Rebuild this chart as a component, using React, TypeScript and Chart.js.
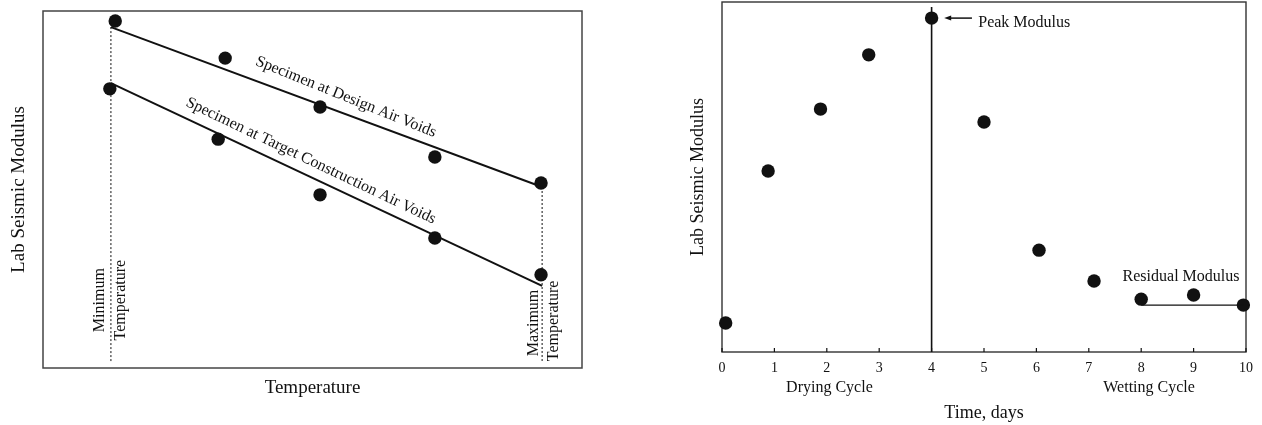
import React, { useEffect, useRef } from "react";
import { Chart, registerables } from "chart.js";

Chart.register(...registerables);

const FONT = "'Liberation Serif', 'Times New Roman', Times, serif";
const INK = "#111111";

// ---------- Left chart: modulus vs temperature (arbitrary 0-100 units) ----------
const designX = [13.4, 33.8, 51.4, 72.7, 92.4];
const designY = [97.2, 86.8, 73.1, 59.1, 51.8];
const targetX = [12.4, 32.5, 51.4, 72.7, 92.4];
const targetY = [78.2, 64.1, 48.5, 36.4, 26.1];
const designFitX = [12.6, 92.6];
const designFitY = [95.5, 50.7];
const targetFitX = [12.6, 92.6];
const targetFitY = [79.8, 23.0];
const minTempX = [12.6, 12.6];
const minTempY = [95.5, 1.4];
const maxTempX = [92.6, 92.6];
const maxTempY = [50.7, 1.4];

// ---------- Right chart: modulus vs time ----------
const timeDays = [0.07, 0.88, 1.88, 2.8, 4.0, 5.0, 6.05, 7.1, 8.0, 9.0, 9.95];
const modulus = [8.3, 51.7, 69.4, 84.9, 95.4, 65.7, 29.1, 20.3, 15.1, 16.3, 13.4];
const peakLineX = [4, 4];
const peakLineY = [0, 98.6];
const residualX = [8.0, 9.95];
const residualY = [13.4, 13.4];
const dayTickMin = 0;
const dayTickMax = 10;

type Label = { text: string; x: number; y: number; rot?: number; align?: CanvasTextAlign; size?: number };

const leftLabels: Label[] = [
  { text: "Specimen at Design Air Voids", x: 56.2, y: 75.9, rot: 22, size: 16 },
  { text: "Specimen at Target Construction Air Voids", x: 49.7, y: 58.0, rot: 25.5, size: 16 },
  { text: "Minimum", x: 10.6, y: 19.0, rot: -90, size: 16 },
  { text: "Temperature", x: 14.5, y: 19.0, rot: -90, size: 16 },
  { text: "Maximum", x: 91.1, y: 12.6, rot: -90, size: 16 },
  { text: "Temperature", x: 94.8, y: 13.2, rot: -90, size: 16 },
];

const rightLabels: Label[] = [
  { text: "Peak Modulus", x: 4.89, y: 94.0, align: "left", size: 16 },
  { text: "Residual Modulus", x: 8.76, y: 21.4, size: 16 },
  { text: "Drying Cycle", x: 2.05, y: -10.3, size: 16 },
  { text: "Wetting Cycle", x: 8.15, y: -10.3, size: 16 },
];

const pts = (xs: number[], ys: number[]) => xs.map((x, i) => ({ x, y: ys[i] }));

const boxPlugin = (width: number, color: string) => ({
  id: "box",
  beforeDatasetsDraw(chart: any) {
    const { ctx, chartArea: a } = chart;
    ctx.save();
    ctx.strokeStyle = color;
    ctx.lineWidth = width;
    ctx.strokeRect(a.left, a.top, a.right - a.left, a.bottom - a.top);
    ctx.restore();
  },
});

const labelPlugin = (labels: Label[]) => ({
  id: "labels",
  afterDatasetsDraw(chart: any) {
    const { ctx, scales } = chart;
    ctx.save();
    ctx.fillStyle = INK;
    labels.forEach((l) => {
      const px = scales.x.getPixelForValue(l.x);
      const py = scales.y.getPixelForValue(l.y);
      ctx.save();
      ctx.translate(px, py);
      ctx.rotate(((l.rot || 0) * Math.PI) / 180);
      ctx.font = `${l.size || 16}px ${FONT}`;
      ctx.textAlign = l.align || "center";
      ctx.textBaseline = "middle";
      ctx.fillText(l.text, 0, 0);
      ctx.restore();
    });
    ctx.restore();
  },
});

const arrowPlugin = {
  id: "arrow",
  afterDatasetsDraw(chart: any) {
    const { ctx, scales } = chart;
    const x1 = scales.x.getPixelForValue(4.77);
    const x2 = scales.x.getPixelForValue(4.24);
    const y = scales.y.getPixelForValue(95.4);
    ctx.save();
    ctx.strokeStyle = INK;
    ctx.fillStyle = INK;
    ctx.lineWidth = 1.5;
    ctx.beginPath();
    ctx.moveTo(x1, y);
    ctx.lineTo(x2 + 4, y);
    ctx.stroke();
    ctx.beginPath();
    ctx.moveTo(x2, y);
    ctx.lineTo(x2 + 7, y - 2.5);
    ctx.lineTo(x2 + 7, y + 2.5);
    ctx.closePath();
    ctx.fill();
    // inward tick marks on the time axis
    const bottom = chart.chartArea.bottom;
    ctx.lineWidth = 1.2;
    for (let v = dayTickMin; v <= dayTickMax; v++) {
      const px = scales.x.getPixelForValue(v);
      ctx.beginPath();
      ctx.moveTo(px, bottom);
      ctx.lineTo(px, bottom - 4);
      ctx.stroke();
    }
    ctx.restore();
  },
};

const hidden = {
  grid: { display: false, drawTicks: false },
  border: { display: false },
};

function leftConfig(): any {
  return {
    type: "scatter",
    data: {
      datasets: [
        { data: pts(designFitX, designFitY), showLine: true, borderColor: INK, borderWidth: 2, pointRadius: 0, clip: false },
        { data: pts(targetFitX, targetFitY), showLine: true, borderColor: INK, borderWidth: 2, pointRadius: 0, clip: false },
        { data: pts(minTempX, minTempY), showLine: true, borderColor: INK, borderWidth: 1, borderDash: [2, 2], pointRadius: 0, clip: false },
        { data: pts(maxTempX, maxTempY), showLine: true, borderColor: INK, borderWidth: 1, borderDash: [2, 2], pointRadius: 0, clip: false },
        { data: pts(designX, designY), pointRadius: 6.7, backgroundColor: INK, borderWidth: 0, clip: false },
        { data: pts(targetX, targetY), pointRadius: 6.7, backgroundColor: INK, borderWidth: 0, clip: false },
      ],
    },
    options: {
      animation: false,
      responsive: false,
      devicePixelRatio: 1,
      layout: { autoPadding: false, padding: { left: 0, top: 11, right: 38, bottom: 0 } },
      plugins: { legend: { display: false }, tooltip: { enabled: false } },
      scales: {
        x: {
          type: "linear", min: 0, max: 100, ...hidden,
          ticks: { display: false },
          title: { display: true, text: "Temperature", color: INK, font: { family: FONT, size: 19 }, padding: { top: 0, bottom: 25.6 } },
          afterFit: (s: any) => { s.height = 57; },
        },
        y: {
          type: "linear", min: 0, max: 100, ...hidden,
          ticks: { display: false },
          title: { display: true, text: "Lab Seismic Modulus", color: INK, font: { family: FONT, size: 19 }, padding: { top: 7.6, bottom: 0 } },
          afterFit: (s: any) => { s.width = 43; },
        },
      },
    },
    plugins: [boxPlugin(1.5, "#444444"), labelPlugin(leftLabels)],
  };
}

function rightConfig(): any {
  return {
    type: "scatter",
    data: {
      datasets: [
        { data: pts(peakLineX, peakLineY), showLine: true, borderColor: INK, borderWidth: 1.6, pointRadius: 0, clip: false },
        { data: pts(residualX, residualY), showLine: true, borderColor: INK, borderWidth: 1.2, pointRadius: 0, clip: false },
        { data: pts(timeDays, modulus), pointRadius: 6.7, backgroundColor: INK, borderWidth: 0, clip: false },
      ],
    },
    options: {
      animation: false,
      responsive: false,
      devicePixelRatio: 1,
      layout: { autoPadding: false, padding: { left: 0, top: 2, right: 16, bottom: 0 } },
      plugins: { legend: { display: false }, tooltip: { enabled: false } },
      scales: {
        x: {
          type: "linear", min: dayTickMin, max: dayTickMax, ...hidden,
          ticks: { display: true, stepSize: 1, color: INK, font: { family: FONT, size: 14 }, padding: 7.6, maxRotation: 0 },
          title: { display: true, text: "Time, days", color: INK, font: { family: FONT, size: 18 }, padding: { top: 0, bottom: 1.2 } },
          afterFit: (s: any) => { s.height = 73; },
        },
        y: {
          type: "linear", min: 0, max: 100, ...hidden,
          ticks: { display: false },
          title: { display: true, text: "Lab Seismic Modulus", color: INK, font: { family: FONT, size: 18 }, padding: { top: 47.2, bottom: 0 } },
          afterFit: (s: any) => { s.width = 82; },
        },
      },
    },
    plugins: [boxPlugin(1.4, "#333333"), labelPlugin(rightLabels), arrowPlugin],
  };
}

function ChartCanvas({ make, left, width }: { make: () => any; left: number; width: number }) {
  const ref = useRef<HTMLCanvasElement | null>(null);
  useEffect(() => {
    if (!ref.current) return;
    const chart = new Chart(ref.current, make());
    return () => chart.destroy();
  }, [make]);
  return (
    <canvas
      ref={ref}
      width={width}
      height={425}
      style={{ position: "absolute", left, top: 0, width, height: 425, display: "block" }}
    />
  );
}

export default function App() {
  return (
    <div style={{ position: "absolute", left: 0, top: 0, width: 1262, height: 425, background: "#ffffff" }}>
      <ChartCanvas make={leftConfig} left={0} width={620} />
      <ChartCanvas make={rightConfig} left={640} width={622} />
    </div>
  );
}
